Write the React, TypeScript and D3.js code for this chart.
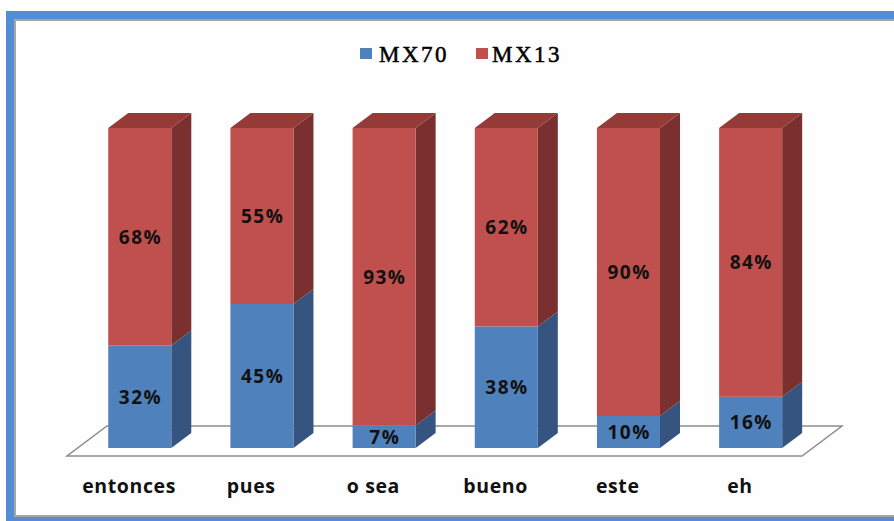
import React from "react";
import * as d3 from "d3";

const categories = ["entonces", "pues", "o sea", "bueno", "este", "eh"];
const mx70 = [32, 45, 7, 38, 10, 16];
const mx13 = [68, 55, 93, 62, 90, 84];
const seriesNames = ["MX70", "MX13"];

const W = 894;
const H = 521;

const frontColors: Record<string, string> = { MX70: "#4F81BD", MX13: "#C0504D" };
const sideColors: Record<string, string> = { MX70: "#35547F", MX13: "#7A302E" };
const topColors: Record<string, string> = { MX70: "#3F6797", MX13: "#943B38" };

export default function App() {
  const rows = categories.map((c, i) => ({ cat: c, MX70: mx70[i], MX13: mx13[i] }));
  const stack = d3.stack<any>().keys(seriesNames)(rows);

  // floor front edge
  const x = d3
    .scaleBand<string>()
    .domain(categories)
    .range([67, 802])
    .paddingInner(0.484)
    .paddingOuter(0.25);
  const bw = x.bandwidth();
  const y = d3.scaleLinear().domain([0, 100]).range([448, 128]);

  const floorDepth = { dx: 40, dy: -30 };
  const barOff = { dx: 10.7, dy: -8 };
  const barDepth = { dx: 20, dy: -15 };
  const floorY = 456;
  const [fx0, fx1] = x.range();

  const floorPts = [
    [fx0, floorY],
    [fx1, floorY],
    [fx1 + floorDepth.dx, floorY + floorDepth.dy],
    [fx0 + floorDepth.dx, floorY + floorDepth.dy],
  ];

  const poly = (pts: number[][]) => pts.map((p) => p.join(",")).join(" ");

  return (
    <svg
      width={W}
      height={H}
      style={{ position: "absolute", left: 0, top: 0 }}
      xmlns="http://www.w3.org/2000/svg"
    >
      <rect x={6} y={11} width={W} height={H} fill="#538DD5" />
      <rect x={14} y={19} width={W} height={498} fill="#A6A6A6" />
      <rect x={16} y={21} width={W} height={494} fill="#FEFEFE" />

      {/* floor */}
      <polygon points={poly(floorPts)} fill="#FFFFFF" stroke="#8C8C8C" strokeWidth={1.5} />

      {/* bars */}
      {categories.map((c, i) => {
        const x0 = (x(c) as number) + barOff.dx;
        const x1 = x0 + bw;
        return (
          <g key={c}>
            {stack.map((layer, li) => {
              const d = layer[i];
              const yb = y(d[0]);
              const yt = y(d[1]);
              const key = layer.key;
              const isTop = li === stack.length - 1;
              return (
                <g key={key}>
                  <polygon
                    points={poly([
                      [x1, yt],
                      [x1 + barDepth.dx, yt + barDepth.dy],
                      [x1 + barDepth.dx, yb + barDepth.dy],
                      [x1, yb],
                    ])}
                    fill={sideColors[key]}
                  />
                  {isTop && (
                    <polygon
                      points={poly([
                        [x0, yt],
                        [x0 + barDepth.dx, yt + barDepth.dy],
                        [x1 + barDepth.dx, yt + barDepth.dy],
                        [x1, yt],
                      ])}
                      fill={topColors[key]}
                    />
                  )}
                  <rect x={x0} y={yt} width={bw} height={yb - yt} fill={frontColors[key]} />
                  <text
                    x={x0 + bw / 2 + 0.7}
                    y={(yb + yt) / 2 + 7}
                    textAnchor="middle"
                    fontFamily="'Open Sans', sans-serif"
                    fontWeight={700}
                    fontSize={19}
                    letterSpacing={1.5}
                    fill="#111"
                  >
                    {`${d[1] - d[0]}%`}
                  </text>
                </g>
              );
            })}
          </g>
        );
      })}

      {/* category labels */}
      {categories.map((c) => (
        <text
          key={c}
          x={(x(c) as number) + bw / 2}
          y={493}
          textAnchor="middle"
          fontFamily="'Open Sans', sans-serif"
          fontWeight={700}
          fontSize={19.5}
          letterSpacing={0.6}
          fill="#111"
        >
          {c}
        </text>
      ))}

      {/* legend */}
      <g>
        <rect x={360} y={48} width={12} height={11} fill={frontColors.MX70} />
        <text
          x={379}
          y={62}
          fontFamily="'Liberation Serif', serif"
          fontSize={23}
          letterSpacing={2.5}
          fill="#000"
          stroke="#000"
          strokeWidth={0.5}
        >
          {seriesNames[0]}
        </text>
        <rect x={476} y={48} width={12} height={11} fill={frontColors.MX13} />
        <text
          x={492}
          y={62}
          fontFamily="'Liberation Serif', serif"
          fontSize={23}
          letterSpacing={2.5}
          fill="#000"
          stroke="#000"
          strokeWidth={0.5}
        >
          {seriesNames[1]}
        </text>
      </g>
    </svg>
  );
}
